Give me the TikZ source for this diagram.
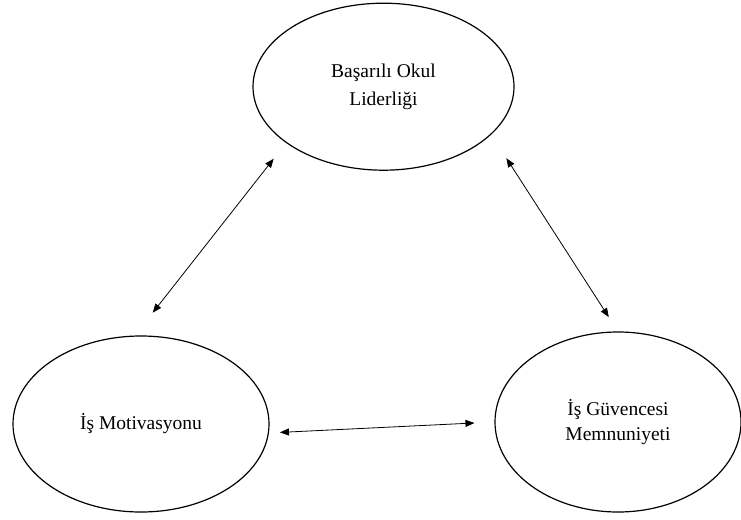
\documentclass[tikz,border=0pt]{standalone}
\usepackage{fontspec}
\setmainfont{Liberation Serif}
\usetikzlibrary{shapes.geometric, arrows.meta, positioning}

\begin{document}
\begin{tikzpicture}[
    x=1pt, y=-1pt,
    factor/.style={ellipse, draw=black, line width=1.2pt, inner sep=0pt,
        align=center, font=\fontsize{19.5}{25}\selectfont},
    link/.style={{Triangle[length=9pt,width=7pt]}-{Triangle[length=9pt,width=7pt]}, line width=0.8pt},
]
\useasboundingbox (0,0) rectangle (741,519);

% the three factors
\node[factor, minimum width=261pt, minimum height=167pt] (leader) at (383.5,86.7) {Başarılı Okul\\[3pt]Liderliği};
\node[factor, minimum width=256pt, minimum height=176pt] (motiv) at (141,424) {İş Motivasyonu};
\node[factor, minimum width=246pt, minimum height=180pt] (secur) at (618,422) {İş Güvencesi\\Memnuniyeti};

% two-way links
\draw[link, shorten <=20pt, shorten >=29pt] (leader.210) -- (motiv.94);
\draw[link, shorten <=28pt, shorten >=17pt] (leader.336) -- (secur.90.5);
\draw[link, shorten <=11pt, shorten >=20pt] (motiv.356) -- (secur.180.6);
\end{tikzpicture}
\end{document}
